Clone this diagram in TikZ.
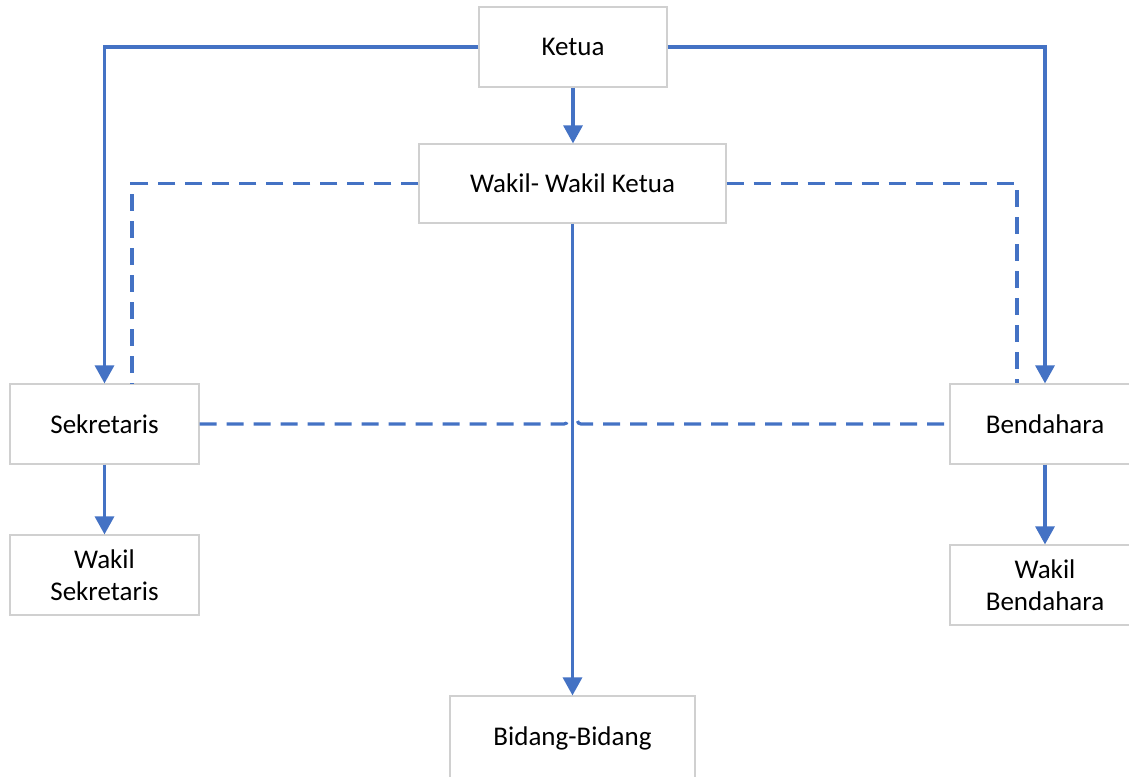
\documentclass[tikz,border=0pt]{standalone}
\usepackage{fontspec}
\setmainfont{Carlito}
\usetikzlibrary{arrows.meta}
\definecolor{lineblue}{HTML}{4472C4}
\definecolor{boxgray}{HTML}{D0D0D0}
\begin{document}
\begin{tikzpicture}[x=1pt,y=-1pt,
  box/.style={draw=boxgray,line width=1.2pt,fill=white,rectangle,inner sep=0pt,
    font=\fontsize{27}{32}\selectfont,align=center},
  conn/.style={draw=lineblue,line width=3.2pt,-{Triangle[width=19pt,length=18pt]}},
  dconn/.style={draw=lineblue,line width=3.2pt,dash pattern=on 17pt off 10pt}]
\useasboundingbox (0,0) rectangle (1129,776);
\node[box,minimum width=188pt,minimum height=80pt] (ketua) at (573,47) {Ketua};
\node[box,minimum width=307pt,minimum height=79pt] (wakil) at (572.5,183.5) {Wakil- Wakil Ketua};
\node[box,minimum width=189pt,minimum height=80pt] (sek) at (104.5,424) {Sekretaris};
\node[box,minimum width=189pt,minimum height=80pt] (wsek) at (104.5,575) {Wakil\\Sekretaris};
\node[box,minimum width=190pt,minimum height=80pt] (ben) at (1045,424) {Bendahara};
\node[box,minimum width=190pt,minimum height=80pt] (wben) at (1045,585) {Wakil\\Bendahara};
\node[box,minimum width=245pt,minimum height=84pt] (bid) at (572.5,738) {Bidang-Bidang};
% solid connectors
\draw[conn] (ketua.west) -| (sek.north);
\draw[conn] (ketua.east) -| (ben.north);
\draw[conn] (ketua.south) -- (ketua.south |- wakil.north);
\draw[conn] (wakil.south) -- (bid.north);
\draw[conn] (sek.south) -- (wsek.north);
\draw[conn] (ben.south) -- (wben.north);
% dashed connectors
\draw[dconn] (wakil.west) -| ([xshift=27.5pt]sek.north);
\draw[dconn] (wakil.east) -| ([xshift=-28pt]ben.north);
\coordinate (hopL) at (567.5,421);
\coordinate (hopR) at (577.5,421);
\draw[dconn] (sek.east) -- (564,424) .. controls (566,424) and (567.5,422.5) .. (hopL);
\draw[dconn] (hopR) .. controls (577.5,422.5) and (579,424) .. (581,424) -- (ben.west);
\end{tikzpicture}
\end{document}
